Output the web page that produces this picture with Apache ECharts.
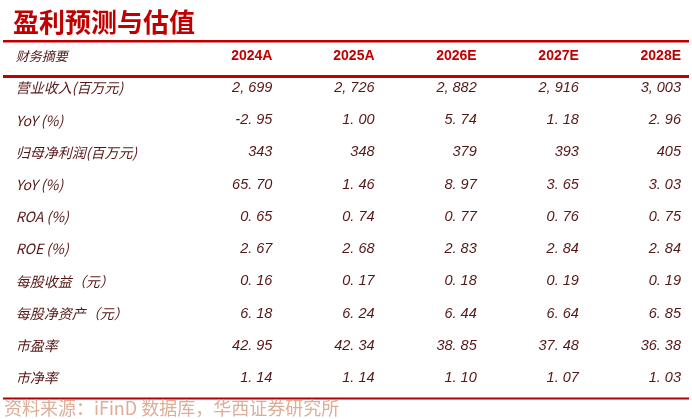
<!DOCTYPE html>
<html>
<head>
<meta charset="utf-8">
<script src="https://cdn.jsdelivr.net/npm/echarts@6/dist/echarts.min.js"></script>
<style>
html, body {margin: 0; padding: 0; background: #fff;}
#main {width: 692px; height: 419px;}
</style>
</head>
<body>
<div id="main"></div>
<script>
//表头与行名
var years = ['2024A', '2025A', '2026E', '2027E', '2028E']
var items = ['营业收入(百万元)', 'YoY (%)', '归母净利润(百万元)', 'YoY (%)', 'ROA (%)', 'ROE (%)', '每股收益（元）', '每股净资产（元）', '市盈率', '市净率']

//各行数值
var revenue = ['2,699', '2,726', '2,882', '2,916', '3,003']
var revenueYoy = ['-2.95', '1.00', '5.74', '1.18', '2.96']
var netProfit = ['343', '348', '379', '393', '405']
var profitYoy = ['65.70', '1.46', '8.97', '3.65', '3.03']
var roa = ['0.65', '0.74', '0.77', '0.76', '0.75']
var roe = ['2.67', '2.68', '2.83', '2.84', '2.84']
var eps = ['0.16', '0.17', '0.18', '0.19', '0.19']
var bvps = ['6.18', '6.24', '6.44', '6.64', '6.85']
var pe = ['42.95', '42.34', '38.85', '37.48', '36.38']
var pb = ['1.14', '1.14', '1.10', '1.07', '1.03']

var rows = [revenue, revenueYoy, netProfit, profitYoy, roa, roe, eps, bvps, pe, pb]

var red = '#c00000'
var dark = '#561616'

//组装单元格，x为列位置，y为行号
var cells = []
cells.push({value: [0, 0], text: '财务摘要', kind: 'headLabel'})
for (var x = 0; x < years.length; x++) {
	cells.push({value: [2.5 + x, 0], text: years[x], kind: 'head'})
}
for (var r = 0; r < items.length; r++) {
	cells.push({value: [0, r + 1], text: items[r], kind: 'label'})
	for (var c = 0; c < rows[r].length; c++) {
		//原图标点偏宽，补一个空格
		cells.push({value: [2.5 + c, r + 1], text: rows[r][c].replace(/([,.])/g, '$1 '), kind: 'num'})
	}
}

function cellStyle(cell) {
	if (cell.kind == 'head') {
		return {fill: red, font: 'bold 14px "Liberation Sans", Arial, sans-serif', align: 'right', skew: 0}
	}
	if (cell.kind == 'num') {
		return {fill: dark, font: 'italic 14.5px "Liberation Sans", Arial, sans-serif', align: 'right', skew: 0}
	}
	if (cell.kind == 'headLabel') {
		return {fill: dark, font: '13px "Noto Sans CJK SC", sans-serif', align: 'left', skew: -0.25}
	}
	//中文字体没有斜体，用skew模拟
	return {fill: dark, font: '14px "Noto Sans CJK SC", sans-serif', align: 'left', skew: -0.25}
}

var chart = echarts.init(document.getElementById('main'))

chart.setOption({
	backgroundColor: '#fff',
	animation: false,
	title: {
		text: '盈利预测与估值',
		left: 8,
		top: 4,
		textStyle: {color: red, fontSize: 26, fontWeight: 'bold', fontFamily: 'Noto Sans CJK SC'}
	},
	grid: {left: 17, right: 11, top: 39.7, bottom: 24.9},
	xAxis: {type: 'value', min: 0, max: 6.5, show: false},
	yAxis: {type: 'value', min: -0.5, max: 10.5, inverse: true, show: false},
	series: [{
		type: 'custom',
		data: cells,
		renderItem: function(params, api) {
			var cell = cells[params.dataIndex]
			var p = api.coord([api.value(0), api.value(1)])
			var s = cellStyle(cell)
			return {
				type: 'text',
				x: p[0],
				y: p[1],
				skewX: s.skew,
				style: {text: cell.text, fill: s.fill, font: s.font, align: s.align, verticalAlign: 'middle'}
			}
		}
	}],
	//表格横线与资料来源
	graphic: [
		{type: 'rect', shape: {x: 3, y: 40, width: 686, height: 2.5}, style: {fill: red}},
		{type: 'rect', shape: {x: 3, y: 75, width: 686, height: 3}, style: {fill: red}},
		{type: 'rect', shape: {x: 3, y: 397.5, width: 686, height: 2}, style: {fill: '#b00000'}},
		{
			type: 'text', left: 4, top: 399,
			style: {text: '资料来源：iFinD 数据库，华西证券研究所', fill: '#dcae98', font: '18px "Noto Sans CJK SC", sans-serif'}
		}
	]
})
</script>
</body>
</html>
